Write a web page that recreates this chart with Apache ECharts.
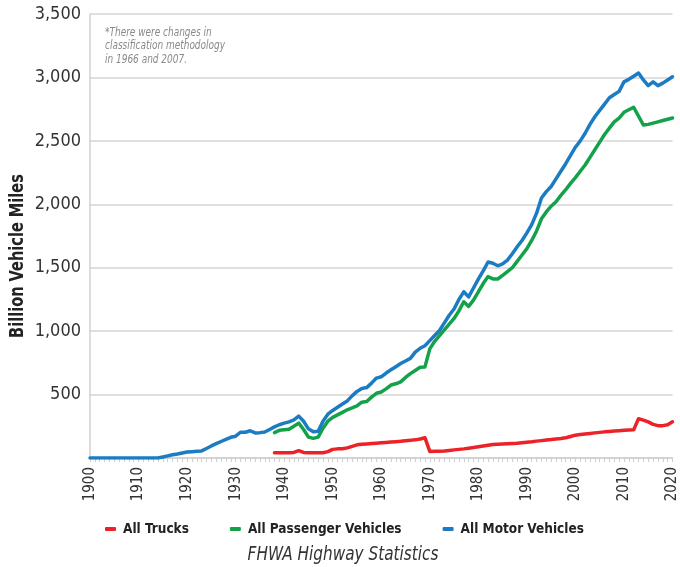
<!DOCTYPE html>
<html>
<head>
<meta charset="utf-8">
<script src="https://cdn.jsdelivr.net/npm/echarts@6/dist/echarts.min.js"></script>
<style>
  html, body { margin: 0; padding: 0; background: #fff; }
  #chart { width: 680px; height: 567px; }
</style>
</head>
<body>
<div id="chart"></div>
<script>
// years on the x axis
const firstYear = 1900;
const lastYear = 2020;
const seriesStart = 1938; // trucks & passenger data begin here

const seriesNames = ['All Trucks', 'All Passenger Vehicles', 'All Motor Vehicles'];
const seriesColors = ['#ec2227', '#13a24a', '#1b7cc3'];

// All Motor Vehicles, 1900-2020 (billion vehicle miles)
const motorVehicles = [
  0, 0, 0, 0, 0, 0, 0, 0, 0, 0,
  0, 0, 0, 0, 0, 8, 17, 25, 32, 40,
  47, 50, 53, 56, 75, 95, 113, 130, 147, 163,
  172, 203, 203, 215, 198, 200, 205, 225, 245, 262,
  275, 285, 300, 330, 290, 230, 207, 210, 290, 345,
  375, 400, 425, 450, 490, 525, 548, 555, 590, 630,
  640, 670, 695, 720, 745, 765, 785, 835, 865, 885,
  925, 965, 1005, 1065, 1125, 1175, 1250, 1310, 1270, 1340,
  1410, 1475, 1545, 1535, 1515, 1530, 1560, 1610, 1665, 1715,
  1775, 1840, 1930, 2050, 2100, 2140, 2200, 2260, 2320, 2385,
  2450, 2500, 2560, 2630, 2690, 2740, 2790, 2840, 2865, 2890,
  2965, 2985, 3010, 3035, 2980, 2935, 2965, 2935, 2955, 2980,
  3005
];

// All Passenger Vehicles, 1938-2020
const passengerVehicles = [
  200, 218, 222, 226, 250, 275, 225, 165, 155, 165,
  235, 290, 320, 340, 360, 380, 395, 410, 440, 445,
  480, 510, 520, 545, 575, 585, 600, 635, 665, 690,
  715, 718, 860, 920, 965, 1010, 1055, 1100, 1160, 1232,
  1195, 1245, 1310, 1375, 1430, 1412, 1411, 1440, 1470, 1500,
  1550, 1600, 1650, 1715, 1790, 1885, 1940, 1985, 2020, 2070,
  2115, 2165, 2210, 2260, 2310, 2370, 2430, 2490, 2550, 2600,
  2650, 2680, 2725, 2745, 2765, 2695, 2625, 2630, 2640, 2650,
  2660, 2670, 2680
];

// All Trucks, 1938-2020
const allTrucks = [
  42, 42, 42, 42, 44, 58, 44, 42, 42, 42,
  42, 50, 68, 72, 73, 80, 92, 104, 108, 111,
  114, 117, 120, 123, 126, 129, 132, 136, 139, 143,
  150, 160, 52, 53, 54, 56, 60, 64, 68, 72,
  77, 82, 88, 94, 100, 106, 108, 110, 112, 114,
  116, 120, 124, 128, 133, 137, 141, 145, 150, 154,
  160, 170, 180, 185, 190, 194, 198, 202, 206, 209,
  212, 215, 218, 220, 222, 310, 298, 285, 265, 255,
  255, 262, 285
];

const yMax = 3500;
const yStep = 500;

const noteLines = ['*There were changes in', 'classification methodology', 'in 1966 and 2007.'];
const sourceText = 'FHWA Highway Statistics';
const yAxisTitle = 'Billion Vehicle Miles';

const years = [];
for (let y = firstYear; y <= lastYear; y++) years.push(String(y));

// pad the series that start later with nulls
function padFrom(start, values) {
  const lead = new Array(start - firstYear).fill(null);
  return lead.concat(values);
}

const narrow = "'Liberation Sans Narrow', 'Arial Narrow', 'DejaVu Sans Condensed', 'Liberation Sans', sans-serif";

const seriesData = [padFrom(seriesStart, allTrucks), padFrom(seriesStart, passengerVehicles), motorVehicles];

const series = seriesNames.map((name, i) => ({
  name: name,
  type: 'line',
  data: seriesData[i],
  showSymbol: false,
  symbol: 'none',
  lineStyle: { width: 3.5, color: seriesColors[i], cap: 'round', join: 'round' },
  itemStyle: { color: seriesColors[i] },
  connectNulls: false,
  z: 2 + i
}));

const chart = echarts.init(document.getElementById('chart'), null, { renderer: 'canvas' });

chart.setOption({
  backgroundColor: '#fff',
  animation: false,
  grid: { left: 90, right: 5, top: 14, bottom: 109, containLabel: false },
  legend: {
    data: seriesNames,
    left: 100,
    top: 517,
    itemGap: 41,
    itemWidth: 11,
    itemHeight: 4,
    icon: 'roundRect',
    textStyle: { fontFamily: narrow, fontSize: 13.5, fontWeight: 'bold', color: '#222', padding: [0, 0, 0, 2] }
  },
  xAxis: {
    type: 'category',
    data: years,
    boundaryGap: false,
    axisLine: { show: true, lineStyle: { color: '#d0d0d0', width: 1.5 } },
    axisTick: { show: true, interval: 0, length: 4, lineStyle: { color: '#cfcfcf', width: 1 } },
    axisLabel: {
      interval: (idx) => idx % 10 === 0,
      rotate: 90,
      margin: 9,
      fontFamily: narrow,
      fontSize: 15,
      color: '#333'
    },
    splitLine: { show: false }
  },
  yAxis: {
    type: 'value',
    min: 0,
    max: yMax,
    interval: yStep,
    axisLine: { show: true, lineStyle: { color: '#d0d0d0', width: 1.5 } },
    axisTick: { show: false },
    axisLabel: {
      margin: 9,
      fontFamily: narrow,
      fontSize: 18,
      color: '#333',
      formatter: (v) => v === 0 ? '' : v.toLocaleString('en-US')
    },
    splitLine: { show: true, lineStyle: { color: '#d4d4d4', width: 1.5 } }
  },
  graphic: [
    {
      type: 'text',
      x: 18,
      y: 256,
      rotation: Math.PI / 2,
      scaleX: 0.81,
      style: {
        text: yAxisTitle,
        fontFamily: narrow,
        fontSize: 20,
        fontWeight: 'bold',
        fill: '#222',
        align: 'center',
        verticalAlign: 'middle'
      }
    },
    {
      type: 'text',
      x: 105,
      y: 26,
      scaleX: 0.83,
      style: {
        text: noteLines.join('\n'),
        fontFamily: narrow,
        fontSize: 12,
        fontStyle: 'italic',
        lineHeight: 13.5,
        fill: '#8a8a8a'
      }
    },
    {
      type: 'text',
      x: 343,
      y: 555,
      scaleX: 0.85,
      style: {
        text: sourceText,
        fontFamily: narrow,
        fontSize: 20,
        fontStyle: 'italic',
        fill: '#333',
        align: 'center',
        verticalAlign: 'middle'
      }
    }
  ],
  series: series
});
</script>
</body>
</html>
